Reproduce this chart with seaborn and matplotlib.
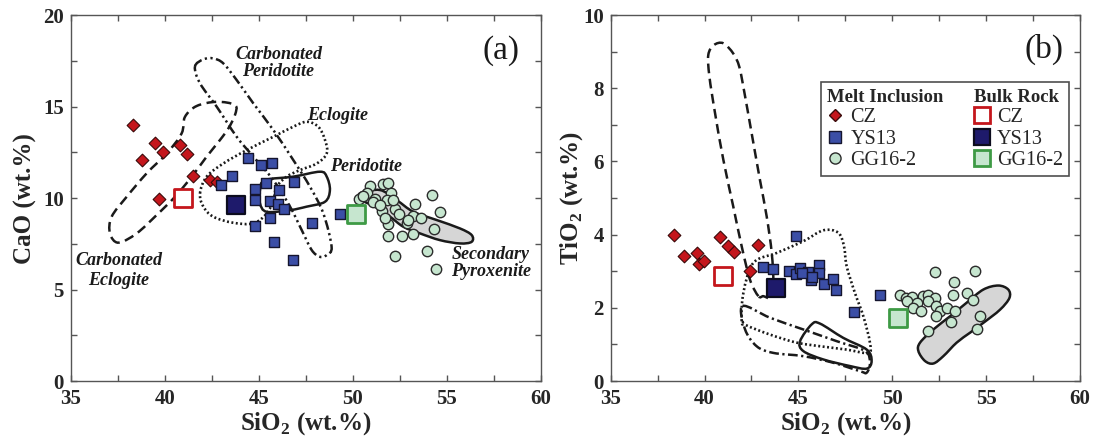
import numpy as np
import matplotlib
matplotlib.use("Agg")
import matplotlib.pyplot as plt
from matplotlib.path import Path
from matplotlib.patches import PathPatch
from matplotlib.lines import Line2D
import seaborn as sns
import pandas as pd

# ---------------- data: panel (a) CaO vs SiO2 ----------------
cz_a_sio2 = [38.3, 39.5, 38.8, 39.9, 40.8, 41.2, 41.5, 42.4, 42.8, 39.7]
cz_a_cao = [14.0, 13.0, 12.1, 12.5, 12.9, 12.4, 11.2, 11.0, 10.9, 9.95]
ys_a_sio2 = [44.45, 45.1, 45.7, 43.6, 43.0, 44.8, 45.4, 46.1, 46.9, 44.8, 45.6, 46.05, 46.35, 45.6, 44.8, 47.85, 49.3, 45.8, 46.8]
ys_a_cao = [12.2, 11.8, 11.9, 11.2, 10.7, 10.5, 10.85, 10.45, 10.9, 9.9, 9.85, 9.65, 9.4, 8.9, 8.5, 8.65, 9.15, 7.6, 6.6]
gg_a_sio2 = [50.9, 51.6, 51.9, 50.75, 51.2, 50.35, 50.55, 52.05, 51.8, 52.25, 51.55, 53.3, 54.2, 54.65,
             53.2, 52.9, 51.9, 53.2, 52.6, 51.9, 54.35, 53.95, 52.25, 54.45, 51.1, 51.45, 52.15, 52.45,
             52.95, 51.7, 53.65]
gg_a_cao = [10.65, 10.75, 10.85, 10.25, 9.95, 9.95, 10.1, 10.3, 9.9, 9.4, 9.3, 9.65, 10.15, 9.25,
            9.0, 8.65, 8.6, 8.05, 7.95, 7.95, 8.3, 7.1, 6.85, 6.1, 9.8, 9.6, 9.9, 9.15,
            8.8, 8.9, 8.9]
bulk_a_sio2 = [41.0, 43.8, 50.2]
bulk_a_cao = [10.0, 9.6, 9.15]

# ---------------- data: panel (b) TiO2 vs SiO2 ----------------
cz_b_sio2 = [38.35, 38.9, 39.6, 39.7, 39.95, 40.8, 41.25, 41.55, 42.85, 42.4]
cz_b_tio2 = [4.0, 3.43, 3.5, 3.2, 3.27, 3.93, 3.68, 3.53, 3.71, 3.0]
ys_b_sio2 = [44.85, 43.1, 43.65, 44.5, 44.85, 45.1, 45.5, 46.1, 46.1, 45.65, 46.35, 46.85, 47.0, 47.95, 49.35, 45.2, 45.7]
ys_b_tio2 = [3.97, 3.11, 3.05, 3.0, 2.93, 3.09, 2.97, 3.18, 2.95, 2.75, 2.64, 2.79, 2.5, 1.89, 2.36, 2.95, 2.85]
gg_b_sio2 = [52.3, 54.4, 53.3, 53.25, 54.0, 54.3, 50.4, 50.75, 51.05, 51.65, 51.9, 52.3, 51.9, 50.8, 51.3,
             51.1, 51.55, 52.35, 52.55, 52.9, 53.35, 53.15, 52.35, 54.7, 54.5, 51.9]
gg_b_tio2 = [2.97, 3.0, 2.7, 2.36, 2.41, 2.21, 2.36, 2.27, 2.29, 2.32, 2.36, 2.27, 2.18, 2.18, 2.14,
             2.0, 1.91, 2.06, 1.91, 2.0, 1.91, 1.61, 1.77, 1.79, 1.43, 1.36]
bulk_b_sio2 = [41.0, 43.8, 50.3]
bulk_b_tio2 = [2.88, 2.55, 1.73]

sample_names = ["CZ", "YS13", "GG16-2"]

# ---------------- field outlines ----------------
a_carb_eclogite = [(37.54, 7.56), (37.09, 8.07), (37.18, 8.98), (37.98, 10.07), (39.04, 11.35), (40.11, 12.44),
                   (40.90, 13.53), (41.08, 14.44), (41.70, 15.03), (42.77, 15.26), (43.74, 15.08), (43.74, 14.54),
                   (43.39, 13.81), (42.94, 13.17), (42.23, 12.26), (41.44, 11.17), (40.55, 10.07), (39.57, 9.07),
                   (38.51, 8.07)]
a_carb_peridotite = [(41.61, 17.18), (42.06, 17.58), (42.59, 17.63), (43.12, 17.36), (43.83, 16.45), (44.72, 15.17),
                     (45.78, 13.72), (46.84, 12.08), (47.73, 10.62), (48.44, 9.16), (48.88, 7.34), (48.62, 6.89),
                     (48.26, 6.79), (47.82, 7.16), (47.29, 8.25), (46.67, 9.53), (45.78, 10.98), (44.72, 12.26),
                     (43.83, 13.35), (42.77, 14.99), (41.88, 16.27)]
a_eclogite = [(41.88, 10.26), (42.23, 11.17), (43.12, 11.89), (44.36, 12.62), (45.78, 13.35), (46.84, 13.90),
              (47.55, 14.17), (48.17, 13.90), (48.53, 13.17), (48.62, 12.44), (48.09, 11.89), (47.20, 11.53),
              (46.49, 11.17), (45.96, 10.62), (45.78, 9.89), (45.43, 9.16), (44.72, 8.62), (43.65, 8.65),
              (42.59, 8.98), (42.06, 9.53)]
a_peridotite = [(45.34, 10.98), (46.84, 11.17), (48.26, 11.44), (48.62, 11.17), (48.79, 10.44), (48.53, 9.80),
                (47.55, 9.53), (46.67, 9.34), (45.43, 9.25), (45.07, 9.71), (45.07, 10.44)]
a_sec_pyroxenite = [(50.39, 10.26), (51.45, 10.44), (52.34, 9.89), (53.23, 9.25), (54.47, 8.80), (55.71, 8.34),
                    (56.33, 7.98), (56.33, 7.61), (55.71, 7.52), (54.65, 7.70), (53.58, 8.07), (52.70, 8.43),
                    (51.99, 8.98), (51.19, 9.53), (50.48, 9.89)]

b_carb_eclogite = [(42.87, 2.32), (42.42, 2.77), (41.98, 3.68), (41.53, 4.77), (41.00, 6.05), (40.56, 7.32),
                   (40.26, 8.32), (40.20, 8.91), (40.50, 9.18), (41.00, 9.23), (41.53, 8.95), (41.85, 8.59),
                   (42.10, 7.95), (42.51, 6.77), (42.95, 5.50), (43.31, 4.50), (43.58, 3.50), (43.66, 2.68),
                   (43.49, 2.29), (43.13, 2.32)]
b_eclogite = [(41.98, 1.64), (42.07, 2.41), (42.60, 3.23), (43.84, 3.50), (45.26, 3.82), (46.33, 4.12),
              (47.13, 4.05), (47.43, 3.68), (47.57, 3.14), (48.01, 2.41), (48.46, 1.77), (48.81, 1.05),
              (48.72, 0.77), (47.57, 0.86), (46.33, 0.94), (44.91, 1.05), (43.49, 1.27), (42.24, 1.52)]
b_carb_peridotite = [(42.03, 2.05), (43.49, 1.73), (45.26, 1.41), (47.04, 1.09), (48.55, 0.82), (48.81, 0.50),
                     (48.64, 0.23), (48.28, 0.27), (46.86, 0.50), (45.26, 0.68), (43.66, 0.77), (42.78, 0.95),
                     (42.16, 1.41)]
b_peridotite = [(45.09, 1.09), (45.71, 1.55), (46.15, 1.57), (47.39, 1.18), (48.64, 0.86), (48.90, 0.55),
                (48.64, 0.34), (47.75, 0.41), (46.33, 0.59), (45.26, 0.82)]
b_sec_pyroxenite = [(51.39, 0.82), (51.48, 1.05), (52.19, 1.41), (53.08, 1.77), (53.96, 2.14), (54.85, 2.50),
                    (55.65, 2.61), (56.18, 2.50), (56.24, 2.27), (55.74, 1.95), (54.85, 1.59), (54.14, 1.32),
                    (53.43, 1.05), (52.72, 0.68), (52.19, 0.48), (51.74, 0.55)]

# ---------------- style ----------------
sns.set_theme(style="ticks")
plt.rcParams["font.family"] = ["Liberation Serif", "DejaVu Serif"]
plt.rcParams["mathtext.fontset"] = "custom"
plt.rcParams["mathtext.rm"] = "Liberation Serif:bold"
plt.rcParams["mathtext.bf"] = "Liberation Serif:bold"
plt.rcParams["lines.scale_dashes"] = False

RED = "#c4161c"
BLUE = "#3b4ea6"
NAVY = "#1e1a6b"
LGREEN = "#c6e6cf"
GREEN_EDGE = "#3e9a45"
AXC = "#555555"


def smooth_closed(ax, pts, ls, fill=None, lw=1.8):
    p = np.asarray(pts, float)
    n = len(p)
    verts = [p[0]]
    codes = [Path.MOVETO]
    for i in range(n):
        p0, p1, p2, p3 = p[i - 1], p[i], p[(i + 1) % n], p[(i + 2) % n]
        c1 = p1 + (p2 - p0) / 6.0
        c2 = p2 - (p3 - p1) / 6.0
        verts += [c1, c2, p2]
        codes += [Path.CURVE4] * 3
    path = Path(verts, codes)
    patch = PathPatch(path, facecolor=fill if fill else "none", edgecolor="#1a1a1a",
                      lw=lw, linestyle=ls, zorder=2)
    ax.add_patch(patch)


def scatter_groups(ax, x_cz, y_cz, x_ys, y_ys, x_gg, y_gg, xb, yb):
    df_cz = pd.DataFrame({"x": x_cz, "y": y_cz})
    df_ys = pd.DataFrame({"x": x_ys, "y": y_ys})
    df_gg = pd.DataFrame({"x": x_gg, "y": y_gg})
    sns.scatterplot(data=df_gg, x="x", y="y", ax=ax, marker="o", s=56, color=LGREEN,
                    edgecolor="#2b2b2b", linewidth=1.0, zorder=4, legend=False)
    sns.scatterplot(data=df_cz, x="x", y="y", ax=ax, marker="D", s=42, color=RED,
                    edgecolor="#3a0a0a", linewidth=0.8, zorder=4, legend=False)
    sns.scatterplot(data=df_ys, x="x", y="y", ax=ax, marker="s", s=62, color=BLUE,
                    edgecolor="#15152e", linewidth=1.0, zorder=4, legend=False)
    ax.scatter([xb[0]], [yb[0]], marker="s", s=160, facecolor="white", edgecolor=RED, linewidth=2.0, zorder=5)
    ax.scatter([xb[1]], [yb[1]], marker="s", s=175, facecolor=NAVY, edgecolor="#0c0c1e", linewidth=1.6, zorder=5)
    ax.scatter([xb[2]], [yb[2]], marker="s", s=175, facecolor=LGREEN, edgecolor=GREEN_EDGE, linewidth=2.0, zorder=5)


DASH = (0, (7, 4))
DASHDOTDOT = (0, (7, 2.5, 1.6, 2.5, 1.6, 2.5))
DASHDOT = (0, (7, 2.5, 1.6, 2.5))
DOT = (0, (1.4, 1.8))

fig = plt.figure(figsize=(10.94, 4.37), dpi=100)
ax1 = fig.add_axes([0.0646, 0.128, 0.4296, 0.8375])
ax2 = fig.add_axes([0.5582, 0.128, 0.429, 0.8375])

# panel (a)
smooth_closed(ax1, a_sec_pyroxenite, "-", fill="#d6d6d6", lw=1.8)
smooth_closed(ax1, a_carb_eclogite, DASH, lw=1.8)
smooth_closed(ax1, a_carb_peridotite, DASHDOTDOT, lw=1.8)
smooth_closed(ax1, a_eclogite, DOT, lw=1.9)
smooth_closed(ax1, a_peridotite, "-", lw=1.8)
scatter_groups(ax1, cz_a_sio2, cz_a_cao, ys_a_sio2, ys_a_cao, gg_a_sio2, gg_a_cao, bulk_a_sio2, bulk_a_cao)

lab = dict(fontsize=13, fontweight="bold", fontstyle="italic", color="#1a1a1a", zorder=6)
ax1.text(46.05, 17.4, "Carbonated\nPeridotite", ha="center", va="center", linespacing=1.0, **lab)
ax1.text(49.2, 14.5, "Eclogite", ha="center", va="center", **lab)
ax1.text(50.7, 11.7, "Peridotite", ha="center", va="center", **lab)
ax1.text(57.35, 6.45, "Secondary\nPyroxenite", ha="center", va="center", linespacing=1.0, **lab)
ax1.text(37.55, 6.05, "Carbonated\nEclogite", ha="center", va="center", linespacing=1.2, **lab)
ax1.text(57.9, 18.05, "(a)", ha="center", va="center", fontsize=24, color="#1a1a1a")

ax1.set_xlim(35, 60)
ax1.set_ylim(0, 20)
ax1.set_xticks([35, 40, 45, 50, 55, 60])
ax1.set_xticks(np.arange(37.5, 60, 5), minor=True)
ax1.set_yticks([0, 5, 10, 15, 20])
ax1.set_yticks(np.arange(2.5, 20, 5), minor=True)
ax1.set_xlabel("SiO$_2$ (wt.%)", fontsize=18, fontweight="bold")
ax1.set_ylabel("CaO (wt.%)", fontsize=18, fontweight="bold")
ax1.xaxis.set_label_coords(0.5, -0.079)
ax1.yaxis.set_label_coords(-0.072, 0.5)

# panel (b)
smooth_closed(ax2, b_sec_pyroxenite, "-", fill="#d6d6d6", lw=1.8)
smooth_closed(ax2, b_carb_eclogite, DASH, lw=1.8)
smooth_closed(ax2, b_eclogite, DOT, lw=1.9)
smooth_closed(ax2, b_carb_peridotite, DASHDOT, lw=1.8)
smooth_closed(ax2, b_peridotite, "-", lw=1.8)
scatter_groups(ax2, cz_b_sio2, cz_b_tio2, ys_b_sio2, ys_b_tio2, gg_b_sio2, gg_b_tio2, bulk_b_sio2, bulk_b_tio2)
ax2.text(58.1, 9.05, "(b)", ha="center", va="center", fontsize=24, color="#1a1a1a")

ax2.set_xlim(35, 60)
ax2.set_ylim(0, 10)
ax2.set_xticks([35, 40, 45, 50, 55, 60])
ax2.set_xticks(np.arange(37.5, 60, 5), minor=True)
ax2.set_yticks([0, 2, 4, 6, 8, 10])
ax2.set_yticks(np.arange(1, 10, 2), minor=True)
ax2.set_xlabel("SiO$_2$ (wt.%)", fontsize=18, fontweight="bold")
ax2.set_ylabel("TiO$_2$ (wt.%)", fontsize=18, fontweight="bold")
ax2.xaxis.set_label_coords(0.5, -0.079)
ax2.yaxis.set_label_coords(-0.054, 0.5)

for ax in (ax1, ax2):
    for sp in ax.spines.values():
        sp.set_visible(True)
        sp.set_color(AXC)
        sp.set_linewidth(1.0)
    ax.tick_params(which="both", direction="in", top=True, right=True, length=4, width=1.0,
                   color=AXC, labelsize=15)
    ax.tick_params(axis="x", pad=6)
    ax.tick_params(axis="y", pad=5)
    for t in ax.get_xticklabels() + ax.get_yticklabels():
        t.set_fontweight("bold")

# legend in panel (b)
hdr = Line2D([], [], linestyle="none", marker=None)
h_cz = Line2D([], [], linestyle="none", marker="D", markersize=6.5, markerfacecolor=RED, markeredgecolor="#3a0a0a")
h_ys = Line2D([], [], linestyle="none", marker="s", markersize=8, markerfacecolor=BLUE, markeredgecolor="#15152e")
h_gg = Line2D([], [], linestyle="none", marker="o", markersize=8, markerfacecolor=LGREEN, markeredgecolor="#2b2b2b")
hb_cz = Line2D([], [], linestyle="none", marker="s", markersize=12, markerfacecolor="white", markeredgecolor=RED, markeredgewidth=2)
hb_ys = Line2D([], [], linestyle="none", marker="s", markersize=12, markerfacecolor=NAVY, markeredgecolor="#0c0c1e", markeredgewidth=1.6)
hb_gg = Line2D([], [], linestyle="none", marker="s", markersize=12, markerfacecolor=LGREEN, markeredgecolor=GREEN_EDGE, markeredgewidth=2)
handles = [hdr, h_cz, h_ys, h_gg, hdr, hb_cz, hb_ys, hb_gg]
labels = ["Melt Inclusion"] + sample_names + ["Bulk Rock"] + sample_names
leg = ax2.legend(handles, labels, ncol=2, loc="upper left", bbox_to_anchor=(0.449, 0.818),
                 frameon=True, fancybox=False, edgecolor="#222222", fontsize=14.5,
                 handlelength=0.8, handletextpad=0.35, columnspacing=1.5, labelspacing=0.12,
                 borderpad=0.3, borderaxespad=0)
leg.get_frame().set_linewidth(1.2)
for i, t in enumerate(leg.get_texts()):
    if labels[i] in ("Melt Inclusion", "Bulk Rock"):
        t.set_fontweight("bold")
        t.set_fontsize(13.5)
# left-align headers with the marker column
try:
    for col in leg._legend_handle_box.get_children():
        for row in col.get_children():
            kids = row.get_children()
            txt = kids[1].get_children()[0].get_text()
            if txt in ("Melt Inclusion", "Bulk Rock"):
                kids[0].width = 0
                row.sep = 0
except Exception:
    pass

fig.savefig("out.png", dpi=100)
